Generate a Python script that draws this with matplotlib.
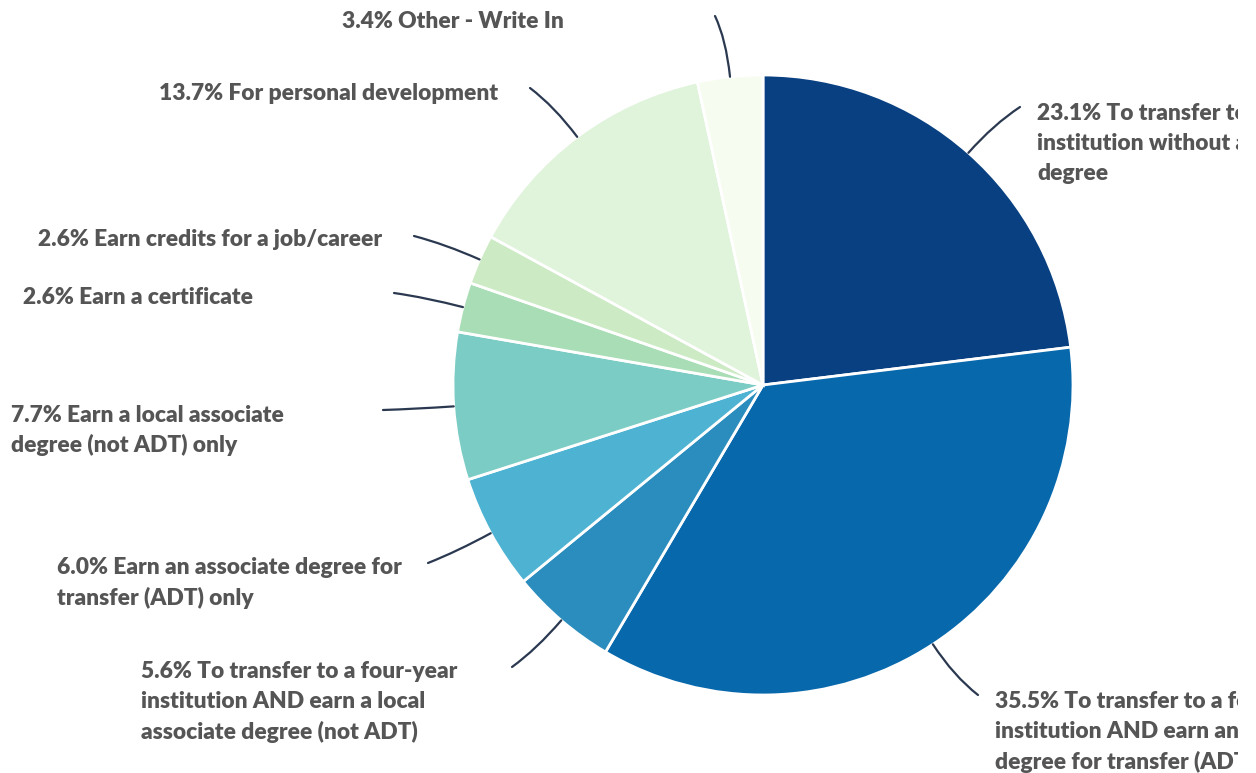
import numpy as np
import matplotlib
matplotlib.use("Agg")
import matplotlib.pyplot as plt
from matplotlib.path import Path
from matplotlib.patches import PathPatch, Rectangle

W, H = 1256, 773

labels = [
    "To transfer to a four-year\ninstitution without a\ndegree",
    "To transfer to a four-year\ninstitution AND earn an associate\ndegree for transfer (ADT)",
    "To transfer to a four-year\ninstitution AND earn a local\nassociate degree (not ADT)",
    "Earn an associate degree for\ntransfer (ADT) only",
    "Earn a local associate\ndegree (not ADT) only",
    "Earn a certificate",
    "Earn credits for a job/career",
    "For personal development",
    "Other - Write In",
]
shares = [23.1, 35.5, 5.6, 6.0, 7.7, 2.6, 2.6, 13.7, 3.4]
colors = ["#084081", "#0868ac", "#2b8cbe", "#4eb3d3", "#7bccc4",
          "#a8ddb5", "#ccebc5", "#e0f3db", "#f7fcf0"]

# layout in pixel space (y measured from top)
center = (763, 385)
radius = 310
line_h = 30
view_w = 1238  # labels past this edge get cut off
# where each connector ends, and where its text sits (x, y of first line, ha)
line_ends = [(1020, 107), (978, 695), (512, 667), (428, 563), (383, 410),
             (394, 293), (414, 236), (530, 88), (715, 16)]
text_pos = [(1037, 114, "left"), (995, 702, "left"), (141, 672, "left"),
            (57, 568, "left"), (11, 415, "left"), (253, 298, "right"),
            (382, 240, "right"), (498, 94, "right"), (564, 22, "right")]

TEXT = "#555555"
LINE = "#2b3950"

fig = plt.figure(figsize=(W / 100, H / 100), dpi=100)
ax = fig.add_axes([0, 0, 1, 1])

cx, cy = center[0], H - center[1]
wedges, _ = ax.pie(shares, colors=colors, startangle=90, counterclock=False,
                   center=(cx, cy), radius=radius, frame=True,
                   wedgeprops=dict(edgecolor="white", linewidth=2))
ax.set_xlim(0, W)
ax.set_ylim(0, H)
ax.set_aspect("equal")
ax.axis("off")

view = Rectangle((0, 0), view_w, H, transform=ax.transData)

for i, w in enumerate(wedges):
    mid = np.deg2rad((w.theta1 + w.theta2) / 2)
    d = np.array([np.cos(mid), np.sin(mid)])
    p0 = np.array([cx, cy]) + radius * d
    p1 = np.array([cx, cy]) + (radius + 38) * d
    ex, ey = line_ends[i]
    p2 = np.array([ex, H - ey])
    path = Path([p0, p1, p2], [Path.MOVETO, Path.CURVE3, Path.CURVE3])
    ax.add_patch(PathPatch(path, fill=False, edgecolor=LINE, lw=1.6,
                           capstyle="round"))

    tx, ty, ha = text_pos[i]
    rows = f"{shares[i]:.1f}% {labels[i]}".split("\n")
    for k, row in enumerate(rows):
        t = ax.text(tx, H - ty - k * line_h, row, ha=ha, va="center",
                    fontsize=16.4, fontweight="heavy",
                    family=["Lato", "DejaVu Sans"], color=TEXT, clip_on=True)
        t.set_clip_path(view)

fig.savefig("out.png", dpi=100, facecolor="white")
